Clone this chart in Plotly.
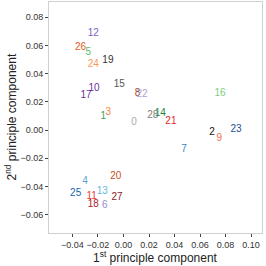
import plotly.graph_objects as go

labels = ["12", "26", "5", "24", "19", "15", "10", "17", "1", "3", "0", "8", "22",
          "28", "14", "21", "16", "2", "9", "23", "7", "20", "4", "13", "25", "11",
          "27", "18", "6"]
pc1 = [-0.0237, -0.0336, -0.0276, -0.0237, -0.0122, -0.0033, -0.0231, -0.0294,
       -0.0158, -0.0119, 0.0082, 0.0111, 0.0145, 0.0229, 0.0289, 0.0372, 0.0757,
       0.0694, 0.0751, 0.0882, 0.0474, -0.0061, -0.0302, -0.0166, -0.0375,
       -0.0249, -0.0051, -0.0237, -0.0147]
pc2 = [0.0682, 0.0587, 0.0552, 0.0467, 0.0493, 0.0320, 0.0292, 0.0242, 0.0094,
       0.0122, 0.0051, 0.0259, 0.0252, 0.0105, 0.0117, 0.0060, 0.0259, -0.0020,
       -0.0062, 0.0004, -0.0140, -0.0328, -0.0363, -0.0434, -0.0448, -0.0474,
       -0.0481, -0.0530, -0.0537]
colors = ["#7b62c4", "#e2571e", "#5cbf6c", "#f89a52", "#333333", "#555555",
          "#6a2fa0", "#6a2fa0", "#41a05a", "#f7813a", "#aaaaaa", "#a0461c",
          "#a9a3d6", "#808080", "#218a3e", "#e0262a", "#7dcc80", "#111111",
          "#f86e58", "#1b4f94", "#3a83c4", "#c8501a", "#5ba3d8", "#6ab6e2",
          "#2066b0", "#ee3a36", "#8a1a2a", "#b51c2a", "#958ccc"]
xticks = [-0.04, -0.02, 0, 0.02, 0.04, 0.06, 0.08, 0.10]
xticktext = ["\u22120.04", "\u22120.02", "0.00", "0.02", "0.04", "0.06", "0.08", "0.10"]
yticks = [-0.06, -0.04, -0.02, 0, 0.02, 0.04, 0.06, 0.08]
yticktext = ["\u22120.06", "\u22120.04", "\u22120.02", "0.00", "0.02", "0.04", "0.06", "0.08"]

fig = go.Figure(go.Scatter(
    x=pc1, y=pc2, mode="text", text=labels,
    textfont=dict(color=colors, size=10, family="Liberation Sans"),
    textposition="middle center", hoverinfo="skip"))

axis_common = dict(
    showgrid=False, zeroline=False, showline=True, linecolor="#d0d0d0",
    linewidth=1, mirror=True, ticks="outside", ticklen=3, tickcolor="#444444",
    tickfont=dict(size=9, color="#333333", family="Liberation Sans"),
    automargin=False,
)
fig.update_layout(
    width=266, height=266,
    margin=dict(l=49, r=4, t=2, b=33),
    plot_bgcolor="white", paper_bgcolor="white",
    showlegend=False,
    font=dict(family="Liberation Sans"),
    xaxis=dict(range=[-0.0584, 0.1086], tickvals=xticks, ticktext=xticktext, **axis_common),
    yaxis=dict(range=[-0.073, 0.0908], tickvals=yticks, ticktext=yticktext, **axis_common),
    annotations=[
        dict(text="1<sup>st</sup> principle component", xref="paper", yref="paper",
             x=0.5, y=0, yshift=-24, xanchor="center", yanchor="middle", showarrow=False,
             font=dict(size=12, color="#222222")),
        dict(text="2<sup>nd</sup> principle component", xref="paper", yref="paper",
             x=0, y=0.5, xshift=-39, xanchor="center", yanchor="middle", showarrow=False,
             textangle=-90, font=dict(size=12, color="#222222")),
    ],
)
fig.write_html("out.html", config={"displayModeBar": False},
               post_script="document.body.style.margin='0';")
